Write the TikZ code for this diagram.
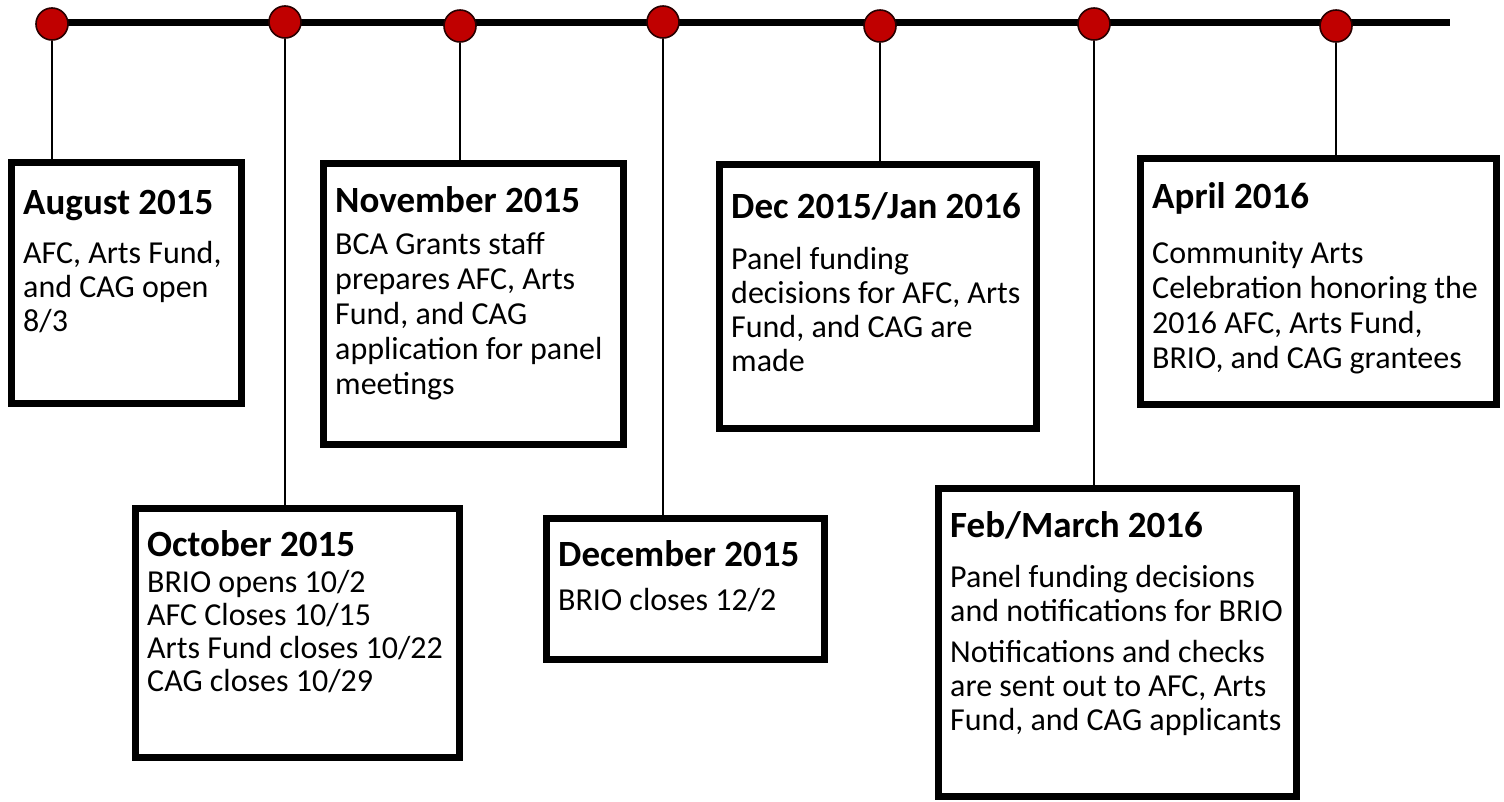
\documentclass[tikz,border=0pt]{standalone}
\usepackage{fontspec}
\setmainfont{Carlito}
\definecolor{dotred}{RGB}{192,0,0}
\definecolor{dotrim}{RGB}{40,0,0}
\begin{document}
\begin{tikzpicture}[x=1pt,y=-1pt,
  timeline/.style={line width=7pt},
  stem/.style={line width=1.8pt},
  evdot/.style={circle,fill=dotred,draw=dotrim,line width=1.6pt,minimum size=32pt,inner sep=0pt},
  evbox/.style={draw,line width=7.5pt,fill=white,inner sep=0pt},
  evtitle/.style={font=\fontsize{37}{40}\selectfont\bfseries,inner sep=0pt},
  evbody/.style={font=\fontsize{32}{34}\selectfont,align=left,inner sep=0pt}]
\useasboundingbox (0,0) rectangle (1504,801);
% the time axis
\coordinate (tstart) at (44,22);
\coordinate (tend) at (1450,22);
\draw[timeline] (tstart) -- (tend);
\node[evdot] (d1) at (52,24) {};
\node[evdot] (d2) at (285,22) {};
\node[evdot] (d3) at (460,26) {};
\node[evdot] (d4) at (663,22) {};
\node[evdot] (d5) at (880,26) {};
\node[evdot] (d6) at (1094,24) {};
\node[evdot] (d7) at (1336,26) {};
% boxes
\node[evbox,minimum width=230,minimum height=241] (aug) at (126.5,283) {};
\node[evbox,minimum width=324,minimum height=249] (oct) at (297.5,633) {};
\node[evbox,minimum width=300,minimum height=281] (nov) at (473.5,304) {};
\node[evbox,minimum width=278,minimum height=141] (dec) at (685.5,589) {};
\node[evbox,minimum width=317,minimum height=264] (decjan) at (878,296.5) {};
\node[evbox,minimum width=358,minimum height=308] (febmar) at (1117.5,642.5) {};
\node[evbox,minimum width=356,minimum height=246] (apr) at (1318.5,281.5) {};
% stems
\draw[stem] (d1.south) -- (d1.south |- aug.north);
\draw[stem] (d2.south) -- (d2.south |- oct.north);
\draw[stem] (d3.south) -- (d3.south |- nov.north);
\draw[stem] (d4.south) -- (d4.south |- dec.north);
\draw[stem] (d5.south) -- (d5.south |- decjan.north);
\draw[stem] (d6.south) -- (d6.south |- febmar.north);
\draw[stem] (d7.south) -- (d7.south |- apr.north);
% texts
\node[evtitle,anchor=base west] (augT) at (23,214) {August 2015};
\node[evbody,anchor=north west] (augB) at (23,239) {\rule{0pt}{24pt}AFC, Arts Fund,\\and CAG open\\8/3};
\node[evtitle,anchor=base west] (octT) at (147,556) {October 2015};
\node[evbody,anchor=north west] (octB) at (147,568) {\rule{0pt}{24pt}BRIO opens 10/2\\[-1pt]AFC Closes 10/15\\[-1pt]Arts Fund closes 10/22\\[-1pt]CAG closes 10/29};
\node[evtitle,anchor=base west] (novT) at (335,212) {November 2015};
\node[evbody,anchor=north west] (novB) at (335,230) {\rule{0pt}{24pt}BCA Grants staff\\[1pt]prepares AFC, Arts\\[1pt]Fund, and CAG\\[1pt]application for panel\\[1pt]meetings};
\node[evtitle,anchor=base west] (decT) at (558,566) {December 2015};
\node[evbody,anchor=north west] (decB) at (558,586) {\rule{0pt}{24pt}BRIO closes 12/2};
\node[evtitle,anchor=base west] (decjanT) at (731,218) {Dec 2015/Jan 2016};
\node[evbody,anchor=north west] (decjanB) at (731,245) {\rule{0pt}{24pt}Panel funding\\decisions for AFC, Arts\\Fund, and CAG are\\made};
\node[evtitle,anchor=base west] (febmarT) at (950,537) {Feb/March 2016};
\node[evbody,anchor=north west] (febmarB) at (950,563) {\rule{0pt}{24pt}Panel funding decisions\\and notifications for BRIO\\[7pt]Notifications and checks\\are sent out to AFC, Arts\\Fund, and CAG applicants};
\node[evtitle,anchor=base west] (aprT) at (1152,208) {April 2016};
\node[evbody,anchor=north west] (aprB) at (1152,239) {\rule{0pt}{24pt}Community Arts\\[1pt]Celebration honoring the\\[1pt]2016 AFC, Arts Fund,\\[1pt]BRIO, and CAG grantees};
\end{tikzpicture}
\end{document}
